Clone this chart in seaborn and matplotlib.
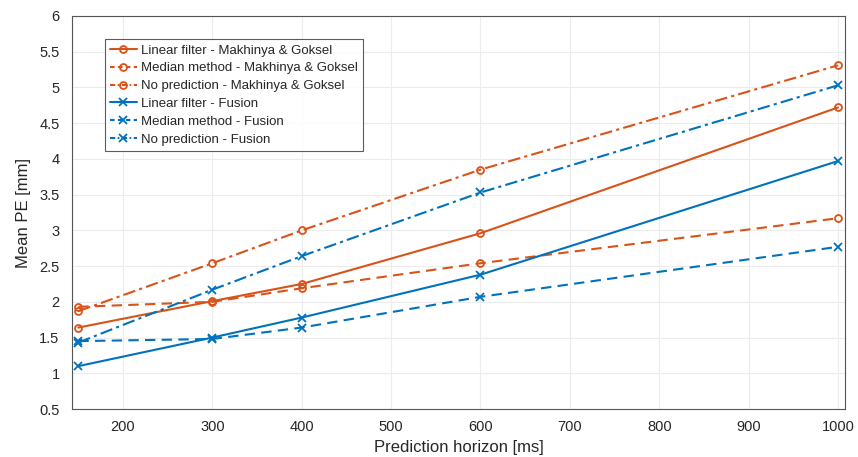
import pandas as pd
import seaborn as sns
import matplotlib.pyplot as plt
from matplotlib.lines import Line2D

horizon = [150, 300, 400, 600, 1000]

linear_mg = [1.64, 2.01, 2.25, 2.96, 4.72]
median_mg = [1.93, 2.00, 2.19, 2.54, 3.17]
noPred_mg = [1.87, 2.54, 3.00, 3.85, 5.31]
linear_fu = [1.10, 1.50, 1.78, 2.38, 3.97]
median_fu = [1.45, 1.48, 1.64, 2.07, 2.77]
noPred_fu = [1.43, 2.17, 2.64, 3.53, 5.03]

labels = ['Linear filter - Makhinya & Goksel',
          'Median method - Makhinya & Goksel',
          'No prediction - Makhinya & Goksel',
          'Linear filter - Fusion',
          'Median method - Fusion',
          'No prediction - Fusion']

ORANGE = '#D95319'
BLUE = '#0072BD'

sns.set_style('whitegrid')
plt.rcParams['font.family'] = ['Liberation Sans', 'DejaVu Sans']

fig, ax = plt.subplots(figsize=(8.58, 4.57), dpi=100)
fig.subplots_adjust(left=0.084, right=0.985, top=0.965, bottom=0.105)

series = [linear_mg, median_mg, noPred_mg, linear_fu, median_fu, noPred_fu]
colors = [ORANGE] * 3 + [BLUE] * 3
markers = ['o'] * 3 + ['x'] * 3
styles = ['-', (0, (5, 3)), (0, (6, 2, 1.5, 2))] * 2
# shorter patterns so the dashes show in the small legend handles
leg_styles = ['-', (0, (2.2, 1.6)), (0, (2.5, 1.2, 0.8, 1.2))] * 2

handles = []
for vals, lab, c, m, ls, lls in zip(series, labels, colors, markers, styles, leg_styles):
    df = pd.DataFrame({'horizon': horizon, 'pe': vals})
    kw = dict(color=c, marker=m, linewidth=1.5,
              markersize=5 if m == 'o' else 6,
              markerfacecolor='none' if m == 'o' else c,
              markeredgecolor=c, markeredgewidth=1.3)
    sns.lineplot(data=df, x='horizon', y='pe', ax=ax, legend=False, linestyle=ls, **kw)
    handles.append(Line2D([], [], linestyle=lls, **kw))

ax.set_xlim(143, 1008)
ax.set_ylim(0.5, 6)
ax.set_xticks(range(200, 1001, 100))
ax.set_yticks([0.5, 1, 1.5, 2, 2.5, 3, 3.5, 4, 4.5, 5, 5.5, 6])
ax.set_yticklabels(['0.5', '1', '1.5', '2', '2.5', '3', '3.5', '4', '4.5', '5', '5.5', '6'])
ax.tick_params(labelsize=10.5, colors='#262626', direction='in', length=3, width=0.6)
ax.tick_params(axis='y', pad=9)
ax.tick_params(axis='x', pad=8)
ax.grid(True, color='#ececec', linewidth=0.8)
for s in ax.spines.values():
    s.set_color('#555555')
    s.set_linewidth(0.8)

ax.set_xlabel('Prediction horizon [ms]', fontsize=12, color='#262626', labelpad=4)
ax.set_ylabel('Mean PE [mm]', fontsize=12, color='#262626', labelpad=6)

leg = ax.legend(handles, labels, loc='upper left', bbox_to_anchor=(0.034, 0.958),
                fontsize=9.5, frameon=True, fancybox=False, handlelength=2.0,
                handletextpad=0.3, labelspacing=0.42, borderpad=0.4)
leg.get_frame().set_edgecolor('#333333')
leg.get_frame().set_linewidth(0.8)

fig.savefig('out.png', dpi=100)
